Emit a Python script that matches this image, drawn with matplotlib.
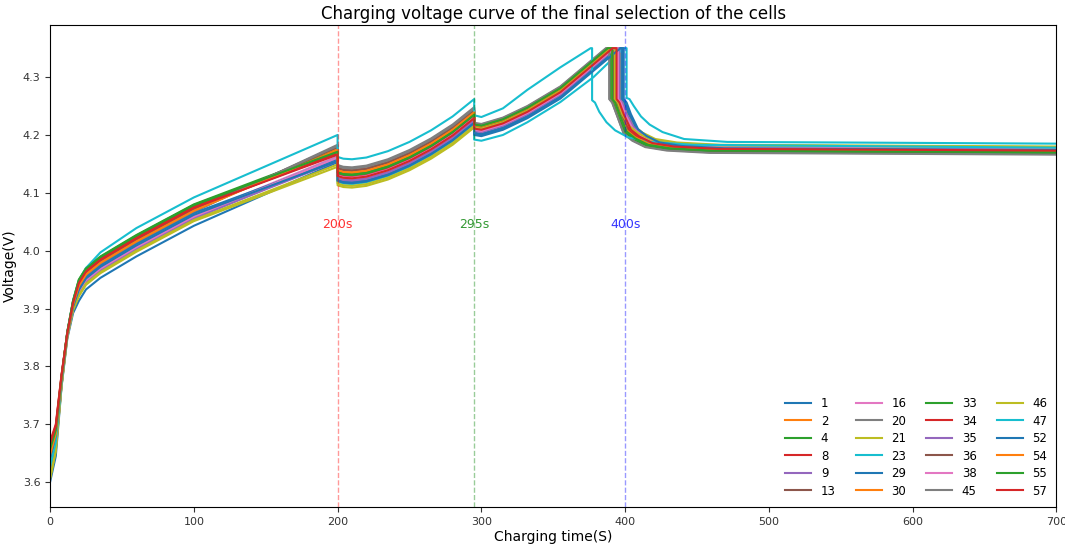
import matplotlib
matplotlib.use('Agg')
import matplotlib.pyplot as plt

# =============== data ===============
cells = [1, 2, 4, 8, 9, 13, 16, 20, 21, 23, 29, 30,
         33, 34, 35, 36, 38, 45, 46, 47, 52, 54, 55, 57]

V_LIMIT = 4.35
T_END = 700

# step 1: 0-200 s
t_step1 = [0, 4, 8, 12, 16, 20, 25, 35, 60, 100, 150, 200]
v_step1 = [
    [3.600, 3.645, 3.765, 3.848, 3.892, 3.913, 3.933, 3.953, 3.990, 4.043, 4.098, 4.153],
    [3.640, 3.679, 3.777, 3.857, 3.910, 3.943, 3.963, 3.983, 4.020, 4.073, 4.125, 4.177],
    [3.660, 3.693, 3.783, 3.859, 3.912, 3.947, 3.967, 3.987, 4.024, 4.077, 4.124, 4.171],
    [3.665, 3.696, 3.784, 3.857, 3.910, 3.943, 3.963, 3.983, 4.020, 4.073, 4.121, 4.169],
    [3.625, 3.668, 3.772, 3.852, 3.899, 3.925, 3.945, 3.965, 4.002, 4.055, 4.107, 4.159],
    [3.630, 3.671, 3.773, 3.856, 3.907, 3.939, 3.959, 3.979, 4.016, 4.069, 4.125, 4.181],
    [3.615, 3.661, 3.769, 3.854, 3.903, 3.931, 3.951, 3.971, 4.008, 4.061, 4.112, 4.163],
    [3.610, 3.658, 3.768, 3.856, 3.906, 3.937, 3.957, 3.977, 4.014, 4.067, 4.125, 4.183],
    [3.605, 3.654, 3.766, 3.851, 3.897, 3.921, 3.941, 3.961, 3.998, 4.051, 4.098, 4.145],
    [3.620, 3.665, 3.771, 3.853, 3.901, 3.929, 3.949, 3.969, 4.006, 4.059, 4.110, 4.161],
    [3.645, 3.682, 3.778, 3.855, 3.905, 3.935, 3.955, 3.975, 4.012, 4.065, 4.111, 4.157],
    [3.650, 3.686, 3.780, 3.857, 3.908, 3.940, 3.960, 3.980, 4.017, 4.070, 4.123, 4.175],
    [3.655, 3.689, 3.781, 3.860, 3.914, 3.950, 3.970, 3.990, 4.027, 4.080, 4.127, 4.173],
    [3.670, 3.700, 3.786, 3.858, 3.911, 3.945, 3.965, 3.985, 4.022, 4.075, 4.121, 4.167],
    [3.623, 3.667, 3.771, 3.853, 3.900, 3.927, 3.947, 3.967, 4.004, 4.057, 4.106, 4.155],
    [3.635, 3.675, 3.775, 3.857, 3.909, 3.941, 3.961, 3.981, 4.018, 4.071, 4.125, 4.179],
    [3.617, 3.662, 3.770, 3.853, 3.901, 3.929, 3.949, 3.969, 4.006, 4.059, 4.110, 4.161],
    [3.613, 3.660, 3.768, 3.856, 3.907, 3.938, 3.958, 3.978, 4.015, 4.068, 4.125, 4.181],
    [3.607, 3.655, 3.767, 3.851, 3.898, 3.923, 3.943, 3.963, 4.000, 4.053, 4.101, 4.149],
    [3.627, 3.669, 3.773, 3.858, 3.913, 3.947, 3.970, 3.997, 4.039, 4.092, 4.146, 4.200],
    [3.643, 3.681, 3.777, 3.854, 3.903, 3.932, 3.952, 3.972, 4.009, 4.062, 4.109, 4.155],
    [3.647, 3.683, 3.779, 3.856, 3.907, 3.939, 3.959, 3.979, 4.016, 4.069, 4.122, 4.174],
    [3.657, 3.690, 3.782, 3.859, 3.913, 3.949, 3.969, 3.989, 4.026, 4.079, 4.125, 4.171],
    [3.667, 3.697, 3.785, 3.858, 3.910, 3.944, 3.964, 3.984, 4.021, 4.074, 4.120, 4.166],
]

# step 2: 200-295 s
t_step2 = [200, 204, 210, 220, 235, 250, 265, 280, 295]
v_step2 = [
    [4.123, 4.120, 4.119, 4.122, 4.133, 4.149, 4.169, 4.193, 4.223],
    [4.143, 4.140, 4.139, 4.142, 4.153, 4.169, 4.189, 4.213, 4.243],
    [4.134, 4.131, 4.130, 4.133, 4.144, 4.160, 4.180, 4.204, 4.234],
    [4.130, 4.127, 4.126, 4.129, 4.140, 4.156, 4.176, 4.200, 4.230],
    [4.127, 4.124, 4.123, 4.126, 4.137, 4.153, 4.173, 4.197, 4.227],
    [4.142, 4.139, 4.138, 4.141, 4.152, 4.168, 4.188, 4.212, 4.242],
    [4.129, 4.126, 4.125, 4.128, 4.139, 4.155, 4.175, 4.199, 4.229],
    [4.148, 4.145, 4.144, 4.147, 4.158, 4.174, 4.194, 4.218, 4.248],
    [4.113, 4.110, 4.109, 4.112, 4.123, 4.139, 4.159, 4.183, 4.213],
    [4.119, 4.116, 4.115, 4.118, 4.129, 4.145, 4.165, 4.189, 4.219],
    [4.121, 4.118, 4.117, 4.120, 4.131, 4.147, 4.167, 4.191, 4.221],
    [4.139, 4.136, 4.135, 4.138, 4.149, 4.165, 4.185, 4.209, 4.239],
    [4.137, 4.134, 4.133, 4.136, 4.147, 4.163, 4.183, 4.207, 4.237],
    [4.131, 4.128, 4.127, 4.130, 4.141, 4.157, 4.177, 4.201, 4.231],
    [4.125, 4.122, 4.121, 4.124, 4.135, 4.151, 4.171, 4.195, 4.225],
    [4.143, 4.140, 4.139, 4.142, 4.153, 4.169, 4.189, 4.213, 4.243],
    [4.130, 4.127, 4.126, 4.129, 4.140, 4.156, 4.176, 4.200, 4.230],
    [4.146, 4.143, 4.142, 4.145, 4.156, 4.172, 4.192, 4.216, 4.246],
    [4.116, 4.113, 4.112, 4.115, 4.126, 4.142, 4.162, 4.186, 4.216],
    [4.162, 4.159, 4.158, 4.161, 4.172, 4.188, 4.208, 4.232, 4.262],
    [4.121, 4.118, 4.117, 4.120, 4.131, 4.147, 4.167, 4.191, 4.221],
    [4.139, 4.136, 4.135, 4.138, 4.149, 4.165, 4.185, 4.209, 4.239],
    [4.135, 4.132, 4.131, 4.134, 4.145, 4.161, 4.181, 4.205, 4.235],
    [4.129, 4.126, 4.125, 4.128, 4.139, 4.155, 4.175, 4.199, 4.229],
]

# step 3: 295 s until the 4.35 V limit
t_step3 = [295, 300, 315, 332, 355, 378]
v_step3 = [
    [4.204, 4.202, 4.213, 4.233, 4.267, 4.315],
    [4.217, 4.215, 4.226, 4.246, 4.280, 4.328],
    [4.218, 4.216, 4.227, 4.247, 4.281, 4.329],
    [4.211, 4.209, 4.220, 4.240, 4.274, 4.322],
    [4.208, 4.206, 4.217, 4.237, 4.271, 4.319],
    [4.215, 4.213, 4.224, 4.244, 4.278, 4.326],
    [4.210, 4.208, 4.219, 4.239, 4.273, 4.321],
    [4.220, 4.218, 4.229, 4.249, 4.283, 4.331],
    [4.208, 4.206, 4.217, 4.237, 4.271, 4.319],
    [4.192, 4.190, 4.200, 4.222, 4.257, 4.300],
    [4.202, 4.200, 4.211, 4.231, 4.265, 4.313],
    [4.216, 4.214, 4.225, 4.245, 4.279, 4.327],
    [4.219, 4.217, 4.228, 4.248, 4.282, 4.330],
    [4.212, 4.210, 4.221, 4.241, 4.275, 4.323],
    [4.207, 4.205, 4.216, 4.236, 4.270, 4.318],
    [4.214, 4.212, 4.223, 4.243, 4.277, 4.325],
    [4.209, 4.207, 4.218, 4.238, 4.272, 4.320],
    [4.221, 4.219, 4.230, 4.250, 4.284, 4.332],
    [4.213, 4.211, 4.222, 4.242, 4.276, 4.324],
    [4.234, 4.231, 4.246, 4.278, 4.317, None],
    [4.200, 4.198, 4.209, 4.229, 4.263, 4.311],
    [4.217, 4.215, 4.226, 4.246, 4.280, 4.328],
    [4.218, 4.216, 4.227, 4.247, 4.281, 4.329],
    [4.211, 4.209, 4.220, 4.240, 4.274, 4.322],
]

# time the cell reaches 4.35 V, and time the current step is cut
t_limit = [394.7, 388.5, 388.0, 391.3, 392.8, 389.4, 391.8, 387.0, 392.8, 399.0, 395.6, 389.0,
           387.5, 390.9, 393.2, 389.9, 392.3, 386.6, 390.4, 376.0, 396.7, 388.5, 388.0, 391.3]
t_cutoff = [397, 391, 390, 394, 395, 392, 394, 389, 396, 401, 398, 392,
            390, 393, 396, 392, 395, 389, 393, 377, 399, 391, 391, 394]

# relaxation after the cut (seconds after cut-off)
tail_dt = [0, 2, 5, 10, 16, 25, 40, 70]
v_tail = [
    [4.262, 4.256, 4.236, 4.208, 4.196, 4.185, 4.179, 4.175],
    [4.262, 4.256, 4.236, 4.210, 4.198, 4.187, 4.181, 4.177],
    [4.262, 4.256, 4.236, 4.205, 4.193, 4.182, 4.176, 4.172],
    [4.262, 4.256, 4.236, 4.209, 4.197, 4.186, 4.180, 4.176],
    [4.262, 4.256, 4.236, 4.212, 4.200, 4.189, 4.183, 4.179],
    [4.262, 4.256, 4.236, 4.207, 4.195, 4.184, 4.178, 4.174],
    [4.262, 4.256, 4.236, 4.213, 4.201, 4.190, 4.184, 4.180],
    [4.262, 4.256, 4.236, 4.203, 4.191, 4.180, 4.174, 4.170],
    [4.262, 4.256, 4.236, 4.216, 4.204, 4.193, 4.187, 4.183],
    [4.264, 4.262, 4.250, 4.232, 4.218, 4.205, 4.193, 4.188],
    [4.262, 4.256, 4.236, 4.210, 4.198, 4.187, 4.181, 4.177],
    [4.262, 4.256, 4.236, 4.208, 4.196, 4.185, 4.179, 4.175],
    [4.262, 4.256, 4.236, 4.205, 4.193, 4.182, 4.176, 4.172],
    [4.262, 4.256, 4.236, 4.207, 4.195, 4.184, 4.178, 4.174],
    [4.262, 4.256, 4.236, 4.213, 4.201, 4.190, 4.184, 4.180],
    [4.262, 4.256, 4.236, 4.206, 4.194, 4.183, 4.177, 4.173],
    [4.262, 4.256, 4.236, 4.212, 4.200, 4.189, 4.183, 4.179],
    [4.262, 4.256, 4.236, 4.202, 4.190, 4.179, 4.173, 4.169],
    [4.262, 4.256, 4.236, 4.215, 4.203, 4.192, 4.186, 4.182],
    [4.260, 4.256, 4.240, 4.222, 4.208, 4.196, 4.188, 4.183],
    [4.262, 4.256, 4.236, 4.210, 4.198, 4.187, 4.181, 4.177],
    [4.262, 4.256, 4.236, 4.208, 4.196, 4.185, 4.179, 4.175],
    [4.262, 4.256, 4.236, 4.206, 4.194, 4.183, 4.177, 4.173],
    [4.262, 4.256, 4.236, 4.209, 4.197, 4.186, 4.180, 4.176],
]
v_final = [4.172, 4.174, 4.169, 4.173, 4.176, 4.171, 4.177, 4.167, 4.180, 4.185, 4.174, 4.172,
           4.169, 4.171, 4.177, 4.170, 4.176, 4.166, 4.179, 4.178, 4.174, 4.172, 4.170, 4.173]

# step markers
marks = [200, 295, 400]
mark_colors = ['red', 'green', 'blue']
# ====================================

plt.rcParams['font.family'] = ['Liberation Sans Narrow', 'DejaVu Sans']

fig = plt.figure(figsize=(10.65, 5.44), dpi=100)
ax = fig.add_axes([0.047, 0.068, 0.945, 0.886])

for i, cell in enumerate(cells):
    t = list(t_step1) + list(t_step2)
    v = list(v_step1[i]) + list(v_step2[i])
    for tc, vc in zip(t_step3, v_step3[i]):
        if vc is not None and tc < t_limit[i]:
            t.append(tc)
            v.append(vc)
    t += [t_limit[i], t_cutoff[i]]
    v += [V_LIMIT, V_LIMIT]
    t += [t_cutoff[i] + d for d in tail_dt] + [T_END]
    v += list(v_tail[i]) + [v_final[i]]
    ax.plot(t, v, lw=1.5, label=str(cell))

for m, c in zip(marks, mark_colors):
    ax.axvline(m, color=c, ls='--', lw=1, alpha=0.4)
    ax.text(m, 4.046, f'{m}s', color=c, alpha=0.8, fontsize=9,
            ha='center', va='center')

ax.set_xlim(0, T_END)
ax.set_ylim(3.557, 4.39)
ax.set_yticks([3.6, 3.7, 3.8, 3.9, 4.0, 4.1, 4.2, 4.3])
ax.tick_params(labelsize=8, colors='#333333')
ax.set_xlabel('Charging time(S)', fontsize=10, labelpad=2)
ax.set_ylabel('Voltage(V)', fontsize=10, labelpad=4)
ax.set_title('Charging voltage curve of the final selection of the cells', fontsize=12, pad=4)
ax.legend(loc='lower right', ncol=4, frameon=False, fontsize=8.5,
          handlelength=2.2, labelspacing=0.38, columnspacing=1.7,
          borderaxespad=0.4)

plt.savefig('out.png', dpi=100)
